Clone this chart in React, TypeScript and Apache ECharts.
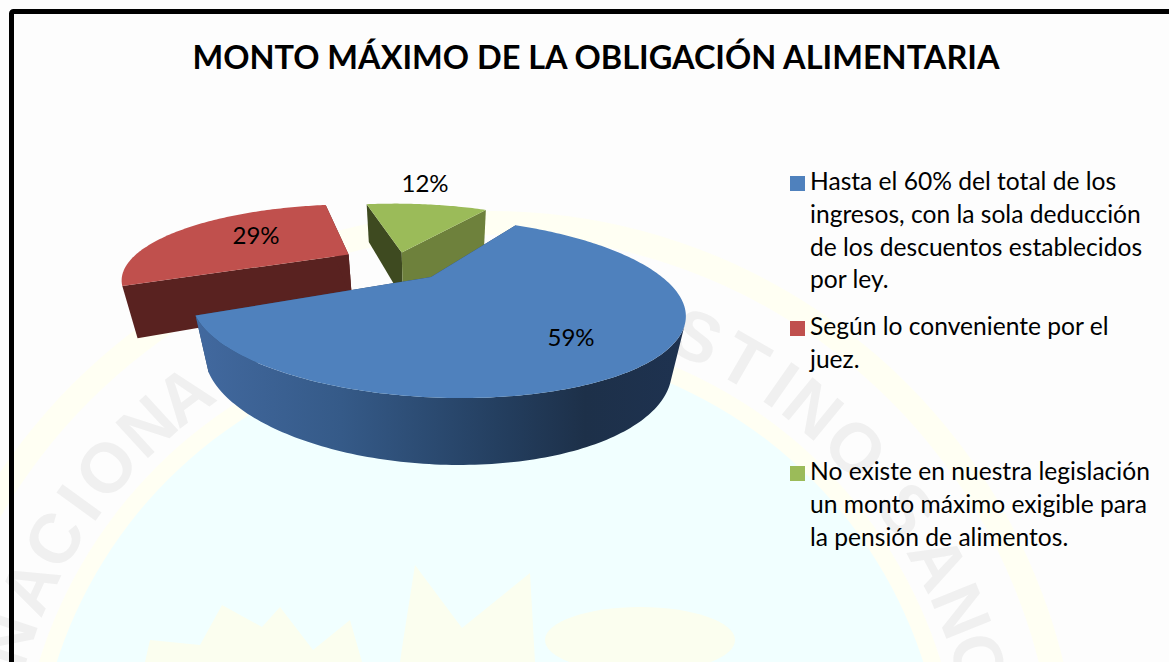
import React, { useEffect, useRef } from "react";
import * as echarts from "echarts";

const categories = [
  "Hasta el 60% del total de los\ningresos, con la sola deducción\nde los descuentos establecidos\npor ley.",
  "Según lo conveniente por el\njuez.",
  "No existe en nuestra legislación\nun monto máximo exigible para\nla pensión de alimentos.",
];
const sliceValues = [59, 29, 12];
const titleText = "MONTO MÁXIMO DE LA OBLIGACIÓN ALIMENTARIA";
const topColors = ["#4f81bd", "#c0504d", "#9bbb59"];

// Layout of the projected 3D pie (perspective model), not data
const P = { x0: 431, y0: 277, A: 231, S: 20, B: 79.4, k: 0.344, D: 53.3, m: 0.05, start: 33 };
const explode = [[0, 0], [-0.368, -0.315], [-0.112, -0.345]];
const sliceRadius = [1, 1.02, 1.01];
const labelPos = [[571, 336], [256, 234], [425, 182]];
const legendTop = [164, 309, 454];
const zOrder = [5, 3, 4];
const FONT = "Lato";

function project(u: number, v: number, bottom: boolean): number[] {
  const w = 1 - P.k * v + (bottom ? P.m : 0);
  const x = P.x0 + (P.A * u + P.S * v) / w;
  const y = P.y0 + (P.B * v + (bottom ? P.D : 0)) / w;
  return [x, y];
}
function rim(t: number, i: number, bottom: boolean): number[] {
  const r = (t * Math.PI) / 180;
  return project(
    sliceRadius[i] * Math.sin(r) + explode[i][0],
    -sliceRadius[i] * Math.cos(r) + explode[i][1],
    bottom
  );
}
function apex(i: number, bottom: boolean): number[] {
  return project(explode[i][0], explode[i][1], bottom);
}
function sliceAngles(i: number): number[] {
  const total = sliceValues.reduce((a, b) => a + b, 0);
  let s = P.start;
  for (let j = 0; j < i; j++) s += (sliceValues[j] / total) * 360;
  return [s, s + (sliceValues[i] / total) * 360];
}
const wallFill = (i: number): any => {
  if (i === 0)
    return new echarts.graphic.LinearGradient(
      195, 0, 683, 0,
      [
        { offset: 0, color: "#42699f" },
        { offset: 0.3, color: "#355a88" },
        { offset: 0.62, color: "#243f60" },
        { offset: 0.8, color: "#1d3049" },
        { offset: 1, color: "#1e3250" },
      ],
      true
    );
  return i === 1 ? "#592220" : "#6e813c";
};
const cutFillStart = ["#2a4468", "#592220", "#3e4a20"];
const cutFillEnd = ["#2a4468", "#592220", "#6e813c"];

function renderSlice(i: number) {
  const [a, b] = sliceAngles(i);
  const top: number[][] = [apex(i, false)];
  const n = Math.max(16, Math.round(b - a));
  const dt = (b - a) / n;
  for (let j = 0; j <= n; j++) top.push(rim(a + j * dt, i, false));
  const children: any[] = [];
  const cut = (t: number, fill: string) => ({
    type: "polygon",
    shape: { points: [apex(i, false), rim(t, i, false), rim(t, i, true), apex(i, true)] },
    style: { fill },
  });
  children.push(cut(a, cutFillStart[i]));
  children.push(cut(b, cutFillEnd[i]));
  // outer wall: only the run of the rim that faces the viewer
  const up: number[][] = [];
  const down: number[][] = [];
  for (let j = 0; j < n; j++) {
    const t = a + j * dt;
    const p = rim(t, i, false);
    const q = rim(t + dt, i, false);
    const d = rim(t, i, true);
    const cross = (q[0] - p[0]) * (d[1] - p[1]) - (q[1] - p[1]) * (d[0] - p[0]);
    if (cross < 0) {
      up.push(p, q);
      down.unshift(d);
      down.unshift(rim(t + dt, i, true));
    }
  }
  if (up.length) {
    children.push({
      type: "polygon",
      shape: { points: up.concat(down) },
      style: { fill: wallFill(i) },
    });
  }
  children.push({ type: "polygon", shape: { points: top }, style: { fill: topColors[i] } });
  children.push({
    type: "text",
    x: labelPos[i][0],
    y: labelPos[i][1],
    style: {
      text: sliceValues[i] + "%",
      fontFamily: FONT,
      fontSize: 24,
      fill: "#000",
      align: "center",
      verticalAlign: "middle",
    },
  });
  return { type: "group", children };
}

// Faint seal in the background of the scanned page
const SEAL = { cx: 490, cy: 801 };
const sealLetters: [string, number][] = [
  ["N", -71.5], ["A", -65], ["C", -59], ["I", -54], ["O", -49], ["N", -42.5], ["A", -37],
  ["S", 24], ["T", 30], ["I", 35], ["N", 39.5], ["O", 46], ["S", 55], ["A", 62], ["N", 68], ["O", 74],
];
function sealGraphics(): any[] {
  const g: any[] = [];
  const { cx, cy } = SEAL;
  const paper = "#fdfdfd";
  const pale = "#fffff3";
  g.push({ type: "rect", z: 0, shape: { x: 0, y: 0, width: 1169, height: 662 }, style: { fill: paper } });
  g.push({ type: "circle", z: 1, shape: { cx, cy, r: 590 }, style: { fill: pale } });
  g.push({ type: "circle", z: 1, shape: { cx, cy, r: 566 }, style: { fill: paper } });
  g.push({ type: "circle", z: 1, shape: { cx, cy, r: 472 }, style: { fill: pale } });
  g.push({ type: "circle", z: 1, shape: { cx, cy, r: 455 }, style: { fill: "#f1ffff" } });
  const crown = "#fbfeef";
  g.push({
    type: "polygon", z: 1,
    shape: { points: [[145, 662], [150, 640], [200, 645], [222, 605], [262, 627], [280, 607], [313, 650], [350, 620], [362, 662]] },
    style: { fill: crown },
  });
  g.push({
    type: "polygon", z: 1,
    shape: { points: [[400, 662], [402, 648], [415, 565], [462, 628], [530, 573], [535, 662]] },
    style: { fill: crown },
  });
  g.push({ type: "ellipse", z: 1, shape: { cx: 640, cy: 640, rx: 95, ry: 33 }, style: { fill: crown } });
  for (const [ch, deg] of sealLetters) {
    const r = (deg * Math.PI) / 180;
    g.push({
      type: "text", z: 1,
      x: cx + 508 * Math.sin(r),
      y: cy - 508 * Math.cos(r),
      rotation: -r,
      style: {
        text: ch, fontFamily: "Liberation Sans", fontWeight: "bold", fontSize: 70, fill: "#f0f0f0",
        align: "center", verticalAlign: "middle",
      },
    });
  }
  // scan frame: only the left and top sides are in view
  g.push({ type: "rect", z: 2, shape: { x: 11.5, y: 11.5, width: 1170, height: 700, r: 2 }, style: { fill: "none", stroke: "#000", lineWidth: 5 } });
  return g;
}
function legendGraphics(): any[] {
  const g: any[] = [];
  categories.forEach((c, i) => {
    g.push({
      type: "rect", z: 10,
      shape: { x: 790, y: legendTop[i] + 12, width: 15, height: 15 },
      style: { fill: topColors[i] },
    });
    g.push({
      type: "text", z: 10,
      x: 810, y: legendTop[i],
      style: { text: c, fontFamily: FONT, fontSize: 24.6, lineHeight: 32.8, fill: "#000", align: "left", verticalAlign: "top" },
    });
  });
  return g;
}

export default function App() {
  const ref = useRef<HTMLDivElement>(null);
  useEffect(() => {
    document.body.style.margin = "0";
    const chart = echarts.init(ref.current!, null, { renderer: "svg" });
    chart.setOption({
      animation: false,
      backgroundColor: "#ffffff",
      title: {
        text: titleText,
        left: 591,
        top: 35,
        textAlign: "center",
        textStyle: { fontFamily: FONT, fontWeight: "bold", fontSize: 32.5, color: "#000" },
      },
      graphic: sealGraphics().concat(legendGraphics()),
      series: sliceValues.map((v, i) => ({
        type: "custom",
        name: categories[i],
        coordinateSystem: "none",
        data: [[v]],
        z: zOrder[i],
        silent: true,
        clip: false,
        renderItem: () => renderSlice(i),
      })),
    });
    return () => chart.dispose();
  }, []);
  return <div ref={ref} style={{ position: "absolute", left: 0, top: 0, width: 1169, height: 662 }} />;
}
